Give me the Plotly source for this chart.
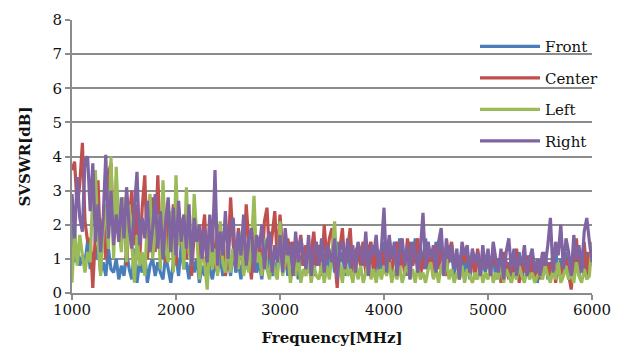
import plotly.graph_objects as go

freq = list(range(1000, 6001, 25))

front = [2.0, 0.9, 1.3, 0.8, 1.1, 0.9, 1.5, 0.7, 1.2, 1.0, 1.4, 0.6, 0.9, 0.5, 1.3, 0.7, 0.6, 1.0, 0.4, 0.8,
         0.5, 1.2, 0.7, 0.4, 1.3, 0.3, 0.9, 0.6, 1.1, 0.3, 0.8, 1.0, 0.5, 0.9, 0.6, 0.4, 1.1, 0.7, 0.3, 0.9,
         1.1, 0.5, 1.4, 0.7, 0.9, 0.4, 1.2, 0.6, 1.0, 0.3, 0.8, 0.5, 1.2, 0.7, 0.4, 0.9, 0.6, 1.1, 0.5, 0.8,
         1.1, 0.5, 1.3, 0.6, 0.9, 0.4, 1.2, 0.7, 1.0, 0.5, 1.3, 0.6, 0.9, 0.4, 1.1, 0.7, 1.2, 0.5, 0.9, 0.6,
         1.4, 0.8, 1.2, 0.5, 1.5, 0.7, 1.3, 0.4, 1.1, 0.8, 1.4, 0.6, 1.2, 0.5, 1.3, 0.8, 1.0, 0.4, 1.2, 0.7,
         1.3, 0.6, 1.5, 0.9, 1.2, 0.5, 1.4, 0.7, 1.1, 0.6, 1.3, 0.8, 1.5, 0.6, 1.2, 0.9, 1.4, 0.5, 1.1, 0.7,
         1.5, 0.8, 1.6, 1.0, 1.3, 0.6, 1.6, 0.9, 1.2, 0.5, 1.5, 0.8, 1.6, 1.0, 1.4, 0.7, 1.6, 0.9, 1.2, 0.6,
         1.5, 1.0, 1.6, 0.7, 1.3, 0.9, 1.2, 0.5, 1.1, 0.8, 1.3, 0.6, 1.0, 0.4, 1.2, 0.7, 1.1, 0.5, 0.9, 0.6,
         1.0, 0.6, 1.2, 0.4, 1.0, 0.7, 1.1, 0.5, 0.9, 0.3, 1.0, 0.6, 1.2, 0.4, 0.9, 0.7, 1.1, 0.5, 0.8, 0.3,
         1.0, 0.6, 1.2, 0.4, 0.9, 0.7, 1.3, 0.5, 1.0, 0.6, 1.2, 0.4, 0.8, 0.7, 1.1, 0.5, 1.0, 0.6, 1.2, 0.8,
         1.0]

center = [3.6, 3.85, 2.5, 3.2, 4.4, 2.1, 1.5, 1.6, 0.15, 1.8, 3.3, 1.2, 2.2, 1.0, 3.5, 3.8, 1.6, 3.0, 2.2, 1.4,
          2.8, 0.8, 2.2, 3.0, 1.4, 2.6, 0.9, 2.5, 3.45, 1.0, 2.0, 2.8, 1.2, 3.45, 1.4, 2.6, 0.9, 2.2, 1.6, 2.6,
          0.8, 2.5, 1.4, 2.0, 1.0, 2.2, 0.5, 1.8, 2.0, 0.9, 1.6, 2.3, 0.6, 1.5, 1.8, 0.7, 2.0, 1.0, 1.8, 0.5,
          1.0, 2.8, 1.4, 0.8, 1.9, 1.2, 0.6, 2.6, 1.4, 0.4, 1.8, 0.9, 1.5, 0.5, 2.1, 2.5, 1.0, 1.7, 2.4, 0.9,
          2.3, 1.3, 0.7, 1.6, 1.0, 1.5, 0.6, 1.2, 1.7, 0.8, 1.4, 0.6, 1.2, 1.8, 0.8, 1.4, 0.5, 2.0, 1.0, 1.6,
          1.9, 0.9, 0.15, 1.3, 1.9, 0.7, 1.4, 1.9, 0.6, 1.2, 1.4, 0.8, 1.5, 0.6, 1.3, 1.5, 0.5, 1.2, 0.9, 1.3,
          0.8, 1.5, 1.0, 0.6, 1.3, 1.5, 0.7, 1.2, 0.5, 1.6, 1.1, 0.8, 1.2, 1.6, 0.5, 1.0, 1.4, 0.7, 1.2, 0.5,
          1.4, 0.7, 1.3, 1.0, 0.5, 1.2, 1.5, 0.8, 1.1, 0.4, 1.3, 0.9, 1.2, 0.6, 1.1, 0.4, 1.3, 0.8, 1.0, 0.7,
          1.0, 0.5, 1.3, 0.8, 1.0, 0.3, 1.2, 0.9, 0.4, 1.1, 0.6, 1.3, 0.3, 0.9, 0.6, 1.1, 0.5, 1.2, 0.4, 0.9,
          0.4, 1.2, 0.6, 0.9, 0.5, 1.1, 0.3, 0.9, 0.7, 0.5, 1.0, 0.6, 0.1, 1.0, 1.6, 0.6, 0.9, 1.5, 0.5, 1.2,
          0.8]

left = [0.3, 1.9, 0.8, 1.7, 1.1, 0.6, 1.2, 0.9, 3.0, 3.6, 1.5, 0.5, 1.8, 2.6, 1.3, 4.0, 1.0, 3.7, 1.9, 1.2,
        2.8, 0.9, 2.6, 1.4, 0.3, 1.7, 0.8, 1.2, 0.5, 2.2, 2.9, 1.0, 1.8, 2.3, 0.7, 3.3, 1.3, 0.9, 2.4, 0.6,
        3.45, 1.4, 2.2, 0.7, 3.1, 1.2, 0.8, 2.9, 1.6, 0.4, 1.2, 0.9, 0.1, 1.5, 0.7, 1.3, 0.5, 2.1, 0.9, 0.6,
        1.6, 0.6, 1.3, 0.9, 0.7, 1.8, 0.5, 1.0, 0.6, 1.4, 2.85, 0.9, 1.2, 0.5, 1.6, 0.7, 0.4, 1.2, 0.6, 0.4,
        2.1, 0.5, 0.9, 1.2, 0.3, 0.8, 0.5, 1.1, 0.3, 0.7, 0.5, 1.0, 0.3, 0.8, 0.5, 0.4, 0.9, 0.3, 0.8, 0.4,
        1.2, 2.1, 0.5, 0.9, 0.3, 1.0, 0.5, 0.7, 0.3, 0.9, 0.4, 0.8, 0.3, 0.6, 0.9, 0.4, 0.7, 0.3, 0.8, 0.4,
        0.8, 0.5, 0.9, 0.3, 0.7, 0.4, 0.8, 0.3, 0.6, 0.9, 0.4, 0.7, 0.3, 0.8, 0.4, 0.6, 0.3, 0.7, 0.9, 0.4,
        0.7, 0.3, 0.8, 0.5, 1.0, 0.4, 0.7, 0.3, 0.6, 0.4, 0.8, 0.3, 0.7, 0.5, 0.3, 0.6, 0.4, 0.8, 0.3, 0.6,
        0.4, 0.8, 0.3, 0.6, 0.4, 0.9, 0.3, 0.7, 0.5, 0.3, 0.6, 0.4, 0.8, 0.5, 0.3, 0.7, 0.4, 0.6, 0.3, 0.5,
        0.6, 0.4, 0.8, 0.5, 0.3, 0.7, 0.4, 0.9, 0.3, 0.5, 0.8, 0.4, 0.6, 0.3, 0.9, 0.5, 0.3, 0.7, 0.4, 0.5,
        1.5]

right = [2.9, 1.6, 3.4, 2.2, 1.8, 3.9, 4.0, 2.4, 3.8, 1.5, 2.6, 1.2, 2.2, 4.05, 1.6, 3.0, 1.4, 2.3, 1.5, 2.8,
         1.6, 3.1, 1.9, 1.3, 2.5, 3.55, 1.4, 2.2, 1.6, 2.7, 1.2, 1.9, 2.9, 1.3, 2.4, 1.0, 2.1, 2.8, 1.2, 2.5,
         1.1, 2.7, 1.5, 2.3, 1.3, 2.6, 0.8, 2.2, 1.5, 2.0, 1.0, 1.9, 0.9, 2.3, 1.2, 3.6, 0.8, 1.8, 1.1, 2.4,
         1.0, 2.0, 2.2, 0.7, 1.8, 1.1, 2.3, 0.8, 1.6, 1.9, 0.6, 1.7, 1.3, 2.0, 0.7, 1.5, 1.8, 0.6, 1.4, 0.9,
         1.7, 0.6, 1.9, 1.1, 1.4, 0.5, 1.8, 0.9, 1.6, 1.2, 0.7, 1.7, 0.5, 1.3, 1.5, 0.8, 1.6, 0.6, 1.4, 1.2,
         0.9, 1.6, 0.4, 1.3, 1.5, 0.7, 1.6, 0.9, 1.4, 0.6, 1.5, 1.2, 0.8, 1.8, 0.5, 1.4, 1.1, 1.7, 0.7, 1.3,
         2.5, 0.6, 1.7, 1.0, 1.5, 0.5, 1.3, 1.6, 0.8, 1.4, 0.4, 1.5, 1.2, 0.6, 1.3, 2.35, 0.7, 1.5, 1.0, 1.4,
         0.6, 1.5, 1.9, 0.5, 1.6, 1.0, 1.4, 0.7, 1.3, 0.4, 1.5, 1.1, 1.4, 0.6, 1.3, 0.9, 1.2, 0.5, 1.4, 0.7,
         1.3, 0.5, 1.5, 1.0, 0.6, 1.3, 0.4, 1.2, 1.6, 0.7, 1.3, 0.5, 1.1, 0.8, 1.4, 0.5, 1.0, 1.3, 0.6, 1.0,
         0.5, 1.2, 0.8, 1.4, 2.2, 0.6, 1.5, 1.1, 2.0, 0.7, 1.6, 1.2, 0.5, 1.7, 1.0, 1.4, 0.6, 1.8, 2.2, 1.5,
         0.9]

series = [("Front", front, "#4A7EBB"),
          ("Center", center, "#C0504D"),
          ("Left", left, "#9BBB59"),
          ("Right", right, "#8064A2")]

serif = "DejaVu Serif"
fig = go.Figure()
for name, vals, col in series:
    fig.add_trace(go.Scatter(x=freq, y=vals, mode="lines", name=name,
                             legendgroup=name,
                             line=dict(color=col, width=3.2)))

fig.update_layout(
    width=624, height=356,
    margin=dict(l=64, r=40, t=12, b=71),
    paper_bgcolor="white", plot_bgcolor="white",
    font=dict(family=serif, size=14, color="#111"),
    legend=dict(x=0.775, y=0.963, xanchor="left", yanchor="top",
                bgcolor="rgba(0,0,0,0)", traceorder="grouped",
                tracegroupgap=9, itemwidth=60,
                font=dict(family=serif, size=15, color="#111")),
    xaxis=dict(range=[1000, 6000], tickvals=[1000, 2000, 3000, 4000, 5000, 6000],
               showgrid=False, showline=True, linecolor="#8c8c8c", linewidth=2,
               ticks="outside", ticklen=5, tickcolor="#8c8c8c", tickwidth=2,
               ticklabelstandoff=-3,
               tickfont=dict(family=serif, size=15, color="#111"),
               title=dict(text="<b>Frequency[MHz]</b>", standoff=14,
                          font=dict(family=serif, size=15, color="#111")),
               zeroline=False, automargin=False),
    yaxis=dict(range=[0, 8], dtick=1,
               showgrid=True, gridcolor="#8c8c8c", gridwidth=2,
               showline=True, linecolor="#8c8c8c", linewidth=2,
               ticks="outside", ticklen=5, tickcolor="#8c8c8c", tickwidth=2,
               tickfont=dict(family=serif, size=15, color="#111"),
               title=dict(text="<b>SVSWR[dB]</b>", standoff=18,
                          font=dict(family=serif, size=15, color="#111")),
               zeroline=False, automargin=False),
)

fig.write_html("out.html")
